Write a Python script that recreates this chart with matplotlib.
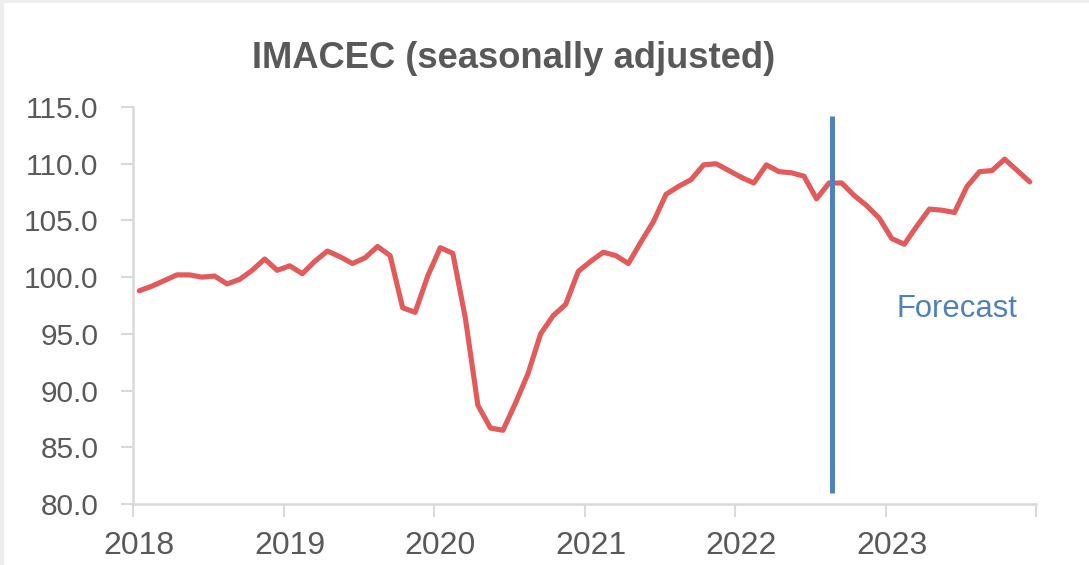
import matplotlib
matplotlib.use("Agg")
import matplotlib.pyplot as plt
from matplotlib.lines import Line2D
import numpy as np

# Monthly IMACEC, seasonally adjusted (Jan 2018 - Dec 2023)
imacec_2018 = [98.8, 99.2, 99.7, 100.2, 100.2, 100.0, 100.1, 99.4, 99.8, 100.6, 101.6, 100.6]
imacec_2019 = [101.0, 100.3, 101.4, 102.3, 101.8, 101.2, 101.7, 102.7, 101.9, 97.3, 96.9, 100.1]
imacec_2020 = [102.6, 102.1, 96.4, 88.7, 86.7, 86.5, 88.9, 91.5, 95.0, 96.6, 97.6, 100.5]
imacec_2021 = [101.4, 102.2, 101.9, 101.2, 103.1, 104.9, 107.3, 108.0, 108.6, 109.9, 110.0, 109.4]
imacec_2022 = [108.8, 108.3, 109.9, 109.3, 109.2, 108.9, 106.9, 108.3, 108.3, 107.2, 106.3, 105.2]
imacec_2023 = [103.4, 102.9, 104.5, 106.0, 105.9, 105.7, 108.0, 109.3, 109.4, 110.4, 109.4, 108.4]

years = ["2018", "2019", "2020", "2021", "2022", "2023"]
y_ticks = [80, 85, 90, 95, 100, 105, 110, 115]
forecast_start = 55.75  # months since Jan 2018 (late Aug 2022)
forecast_label = "Forecast"
title = "IMACEC (seasonally adjusted)"

values = (imacec_2018 + imacec_2019 + imacec_2020 + imacec_2021
          + imacec_2022 + imacec_2023)
months = np.arange(len(values)) + 0.5  # points centred within each month

RED = "#E35A5A"
BLUE = "#4F81BD"
GREY_TXT = "#595959"
GREY_AX = "#D9D9D9"

plt.rcParams["font.family"] = ["Liberation Sans", "DejaVu Sans"]

fig = plt.figure(figsize=(10.89, 5.65), dpi=100)
fig.patch.set_facecolor("white")
ax = fig.add_axes([133 / 1089, 1 - 504 / 565, (1036 - 133) / 1089, (504 - 107) / 565])

ax.plot(months, values, color=RED, lw=3.7, solid_joinstyle="round",
        solid_capstyle="round", zorder=3)

# forecast divider
ax.plot([forecast_start, forecast_start], [80.95, 114.2], color=BLUE, lw=3.6,
        solid_capstyle="butt", zorder=4, clip_on=False)
ax.text(60.85, 96.5, forecast_label, color=BLUE, fontsize=22.3, ha="left",
        va="baseline")

ax.set_xlim(0, 72)
ax.set_ylim(80, 115)
ax.set_yticks(y_ticks)
ax.set_yticklabels([f"{v:.1f}" for v in y_ticks])

# year boundaries as tick marks, year labels centred on January
ax.set_xticks(np.arange(0, 73, 12))
ax.set_xticklabels([])
ax.set_xticks(np.arange(len(years)) * 12 + 0.5, minor=True)
ax.set_xticklabels(years, minor=True)

ax.tick_params(axis="x", which="major", length=9, width=1.5, color=GREY_AX)
ax.tick_params(axis="x", which="minor", length=0, pad=19.5, labelsize=23,
               labelcolor=GREY_TXT)
ax.tick_params(axis="y", length=9, width=1.5, color=GREY_AX, pad=16,
               labelsize=21.5, labelcolor=GREY_TXT)

for s in ["top", "right"]:
    ax.spines[s].set_visible(False)
for s in ["left", "bottom"]:
    ax.spines[s].set_color(GREY_AX)
    ax.spines[s].set_linewidth(1.8)

fig.text(514 / 1089, 1 - 68 / 565, title, ha="center", va="baseline",
         fontsize=26.2, fontweight="bold", color=GREY_TXT)

# thin light frame on the left and top edges
fig.add_artist(Line2D([0.002, 0.002], [0, 1], transform=fig.transFigure,
                      color="#EEEEEE", lw=3))
fig.add_artist(Line2D([0, 1], [0.998, 0.998], transform=fig.transFigure,
                      color="#EEEEEE", lw=2))

fig.savefig("out.png", dpi=100)
